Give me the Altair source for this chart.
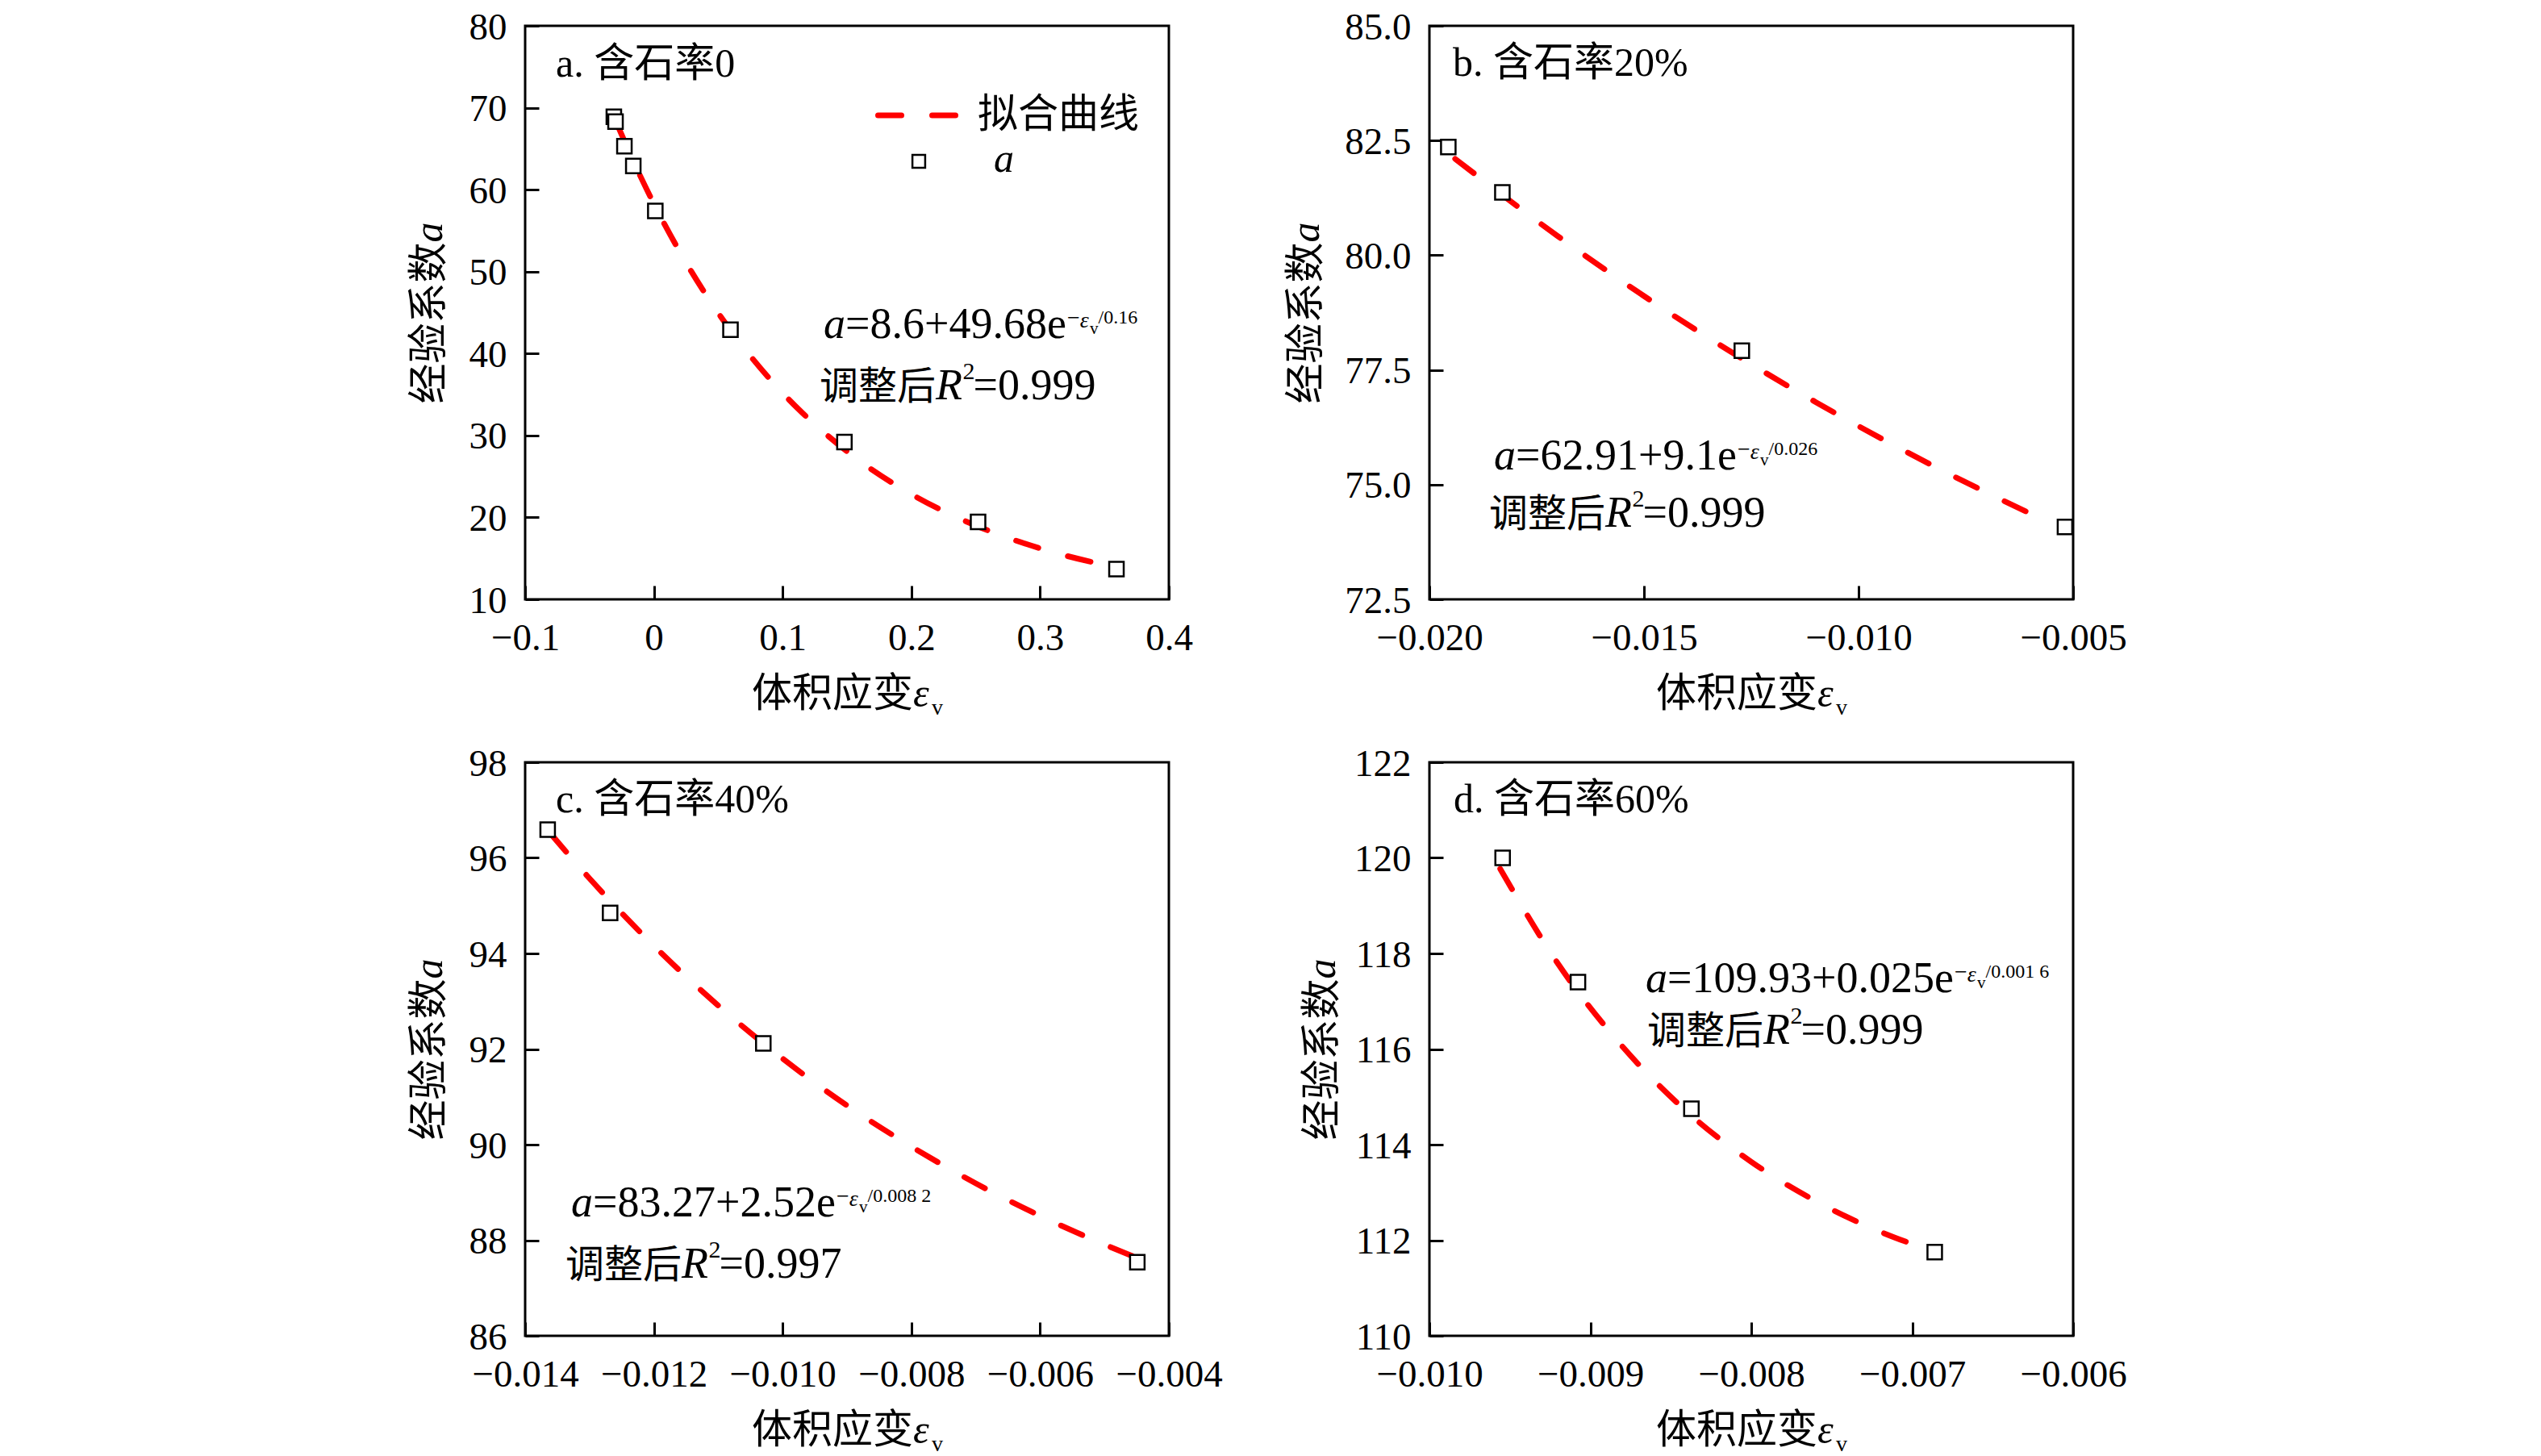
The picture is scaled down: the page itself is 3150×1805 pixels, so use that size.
import altair as alt
import pandas as pd

FONT = "Liberation Serif, Noto Sans CJK SC"
RED = "#ff0000"

# ---------------- data ----------------
# panel a  (含石率0)
a_pt_x = [-0.0311, -0.0298, -0.0229, -0.0160, 0.0011, 0.0595, 0.148, 0.2518, 0.3593]
a_pt_y = [68.9, 68.3, 65.3, 62.9, 57.4, 42.9, 29.2, 19.45, 13.7]
a_fit_x = [-0.028, -0.014, 0.0, 0.025, 0.05, 0.075, 0.1, 0.15, 0.2, 0.25, 0.3, 0.357]
a_fit_y = [67.78, 62.82, 58.28, 51.09, 44.95, 39.69, 35.19, 28.06, 22.83, 19.01, 16.22, 13.94]

# panel b  (含石率20%)
b_pt_x = [-0.01956, -0.0183, -0.01272, -0.00519]
b_pt_y = [82.36, 81.37, 77.92, 74.08]
b_fit_x = [-0.0194, -0.017, -0.015, -0.013, -0.011, -0.009, -0.007, -0.0055]
b_fit_y = [82.10, 80.41, 79.11, 77.91, 76.80, 75.77, 74.82, 74.15]

# panel c  (含石率40%)
c_pt_x = [-0.01365, -0.01268, -0.0103, -0.00449]
c_pt_y = [96.59, 94.85, 92.12, 87.54]
c_fit_x = [-0.0136, -0.013, -0.012, -0.011, -0.010, -0.009, -0.008, -0.007, -0.006, -0.005, -0.0044]
c_fit_y = [96.50, 95.57, 94.16, 92.91, 91.80, 90.82, 89.96, 89.19, 88.51, 87.91, 87.58]

# panel d  (含石率60%)
d_pt_x = [-0.009545, -0.009077, -0.008372, -0.00686]
d_pt_y = [120.0, 117.40, 114.75, 111.75]
d_fit_x = [-0.00956, -0.0092, -0.0088, -0.0084, -0.0080, -0.0076, -0.0072, -0.0070]
d_fit_y = [119.77, 117.78, 116.05, 114.69, 113.64, 112.82, 112.18, 111.92]

# axes
a_xticks = [-0.1, 0.0, 0.1, 0.2, 0.3, 0.4]
a_yticks = [10, 20, 30, 40, 50, 60, 70, 80]
b_xticks = [-0.020, -0.015, -0.010, -0.005]
b_yticks = [72.5, 75.0, 77.5, 80.0, 82.5, 85.0]
c_xticks = [-0.014, -0.012, -0.010, -0.008, -0.006, -0.004]
c_yticks = [86, 88, 90, 92, 94, 96, 98]
d_xticks = [-0.010, -0.009, -0.008, -0.007, -0.006]
d_yticks = [110, 112, 114, 116, 118, 120, 122]

titles = ["a. 含石率0", "b. 含石率20%", "c. 含石率40%", "d. 含石率60%"]
fit_main = ["=8.6+49.68e", "=62.91+9.1e", "=83.27+2.52e", "=109.93+0.025e"]
fit_expo = ["/0.16", "/0.026", "/0.008 2", "/0.001 6"]
fit_r2 = ["0.999", "0.999", "0.997", "0.999"]
x_title = ["体积应变", "ε", "v"]
y_title = ["经验系数", "a"]
legend_labels = ["拟合曲线", "a"]

# ---------------- layout helpers ----------------
W, H = 798, 711
ONE = pd.DataFrame({"k": [0]})


def tw(s, fs):
    w = 0.0
    for ch in s:
        if ch in "0123456789":
            w += 0.5
        elif ch in ". ":
            w += 0.25
        elif ch in "=+−":
            w += 0.564
        elif ch == "e":
            w += 0.444
        elif ch == "/":
            w += 0.278
        elif ch == "ε":
            w += 0.44
        elif ord(ch) > 0x2E80:
            w += 1.0
        else:
            w += 0.5
    return w * fs


def txt(s, x, y, fs, italic=False, baseline="alphabetic", angle=0):
    return alt.Chart(ONE).mark_text(
        text=s, align="left", baseline=baseline, font=FONT, fontSize=fs, angle=angle,
        fontStyle="italic" if italic else "normal", color="black"
    ).encode(x=alt.value(round(x, 1)), y=alt.value(round(y, 1)))


def formula(i, x0, y0, x1, y1):
    F, S, V, C = 54, 28, 21, 48
    items = [txt("a", x0, y0, F, italic=True)]
    xa = x0 + 0.5 * F
    items.append(txt(fit_main[i], xa, y0, F))
    xs = xa + tw(fit_main[i], F) + 1
    items.append(txt("−", xs, y0 - 16, S))
    xeps = xs + tw("−", S)
    items.append(txt("ε", xeps, y0 - 13, S, italic=True))
    xv = xeps + tw("ε", S)
    items.append(txt("v", xv, y0 - 5, V))
    xe = xv + tw("v", V)
    items.append(txt(fit_expo[i], xe, y0 - 18, S - 4))
    items.append(txt("调整后", x1, y1, C))
    xr = x1 + 3 * C
    items.append(txt("R", xr, y1, 54, italic=True))
    x2 = xr + 0.62 * 54
    items.append(txt("2", x2, y1 - 25, 30))
    items.append(txt("=" + fit_r2[i], x2 + 13, y1, F))
    return items


def axis_titles(ytx):
    T = 50
    # x title: 体积应变 + italic ε + subscript v
    x0 = W / 2 - 118
    items = [txt(x_title[0], x0, H + 133, T),
             txt(x_title[1], x0 + 4 * T, H + 133, T, italic=True),
             txt(x_title[2], x0 + 4 * T + 0.46 * T, H + 143, 28)]
    # y title: 经验系数 + italic a, rotated
    yb = H / 2 + 113
    items += [txt(y_title[0], ytx + 19, yb, T, angle=270),
              txt(y_title[1], ytx + 19, yb - 4 * T, T, italic=True, angle=270)]
    return items


def panel(i, px, py, fx, fy, xdom, ydom, xt, yt, xfmt, yfmt, tpos, fpos, ytx, extra=()):
    xs = alt.Scale(domain=xdom, nice=False, zero=False)
    ys = alt.Scale(domain=ydom, nice=False, zero=False)
    xax = alt.Axis(values=xt, format=xfmt, title=None, tickSize=17, offset=-17,
                   domain=False, grid=False, tickColor="black", tickWidth=3,
                   labelPadding=25, labelFont="Liberation Serif",
                   labelFontSize=47, labelColor="black",
                   labelOverlap=False, labelFlush=False)
    yax = alt.Axis(values=yt, format=yfmt, title=None, tickSize=17, offset=-17,
                   domain=False, grid=False, tickColor="black", tickWidth=3,
                   labelPadding=23, labelFont="Liberation Serif",
                   labelFontSize=47, labelColor="black",
                   labelOverlap=False, labelFlush=False, labelOffset=2)
    fit = alt.Chart(pd.DataFrame({"x": fx, "y": fy})).mark_line(
        color=RED, strokeWidth=7, strokeDash=[29, 38], strokeCap="round",
        interpolate="monotone"
    ).encode(x=alt.X("x:Q", scale=xs, axis=xax), y=alt.Y("y:Q", scale=ys, axis=yax))
    pts = alt.Chart(pd.DataFrame({"x": px, "y": py})).mark_point(
        shape="square", size=324, fill="white", fillOpacity=1, stroke="black",
        strokeWidth=2.5, opacity=1
    ).encode(x=alt.X("x:Q", scale=xs), y=alt.Y("y:Q", scale=ys))
    layers = [fit, pts, txt(titles[i], tpos[0], tpos[1], 50)]
    layers += formula(i, *fpos)
    layers += axis_titles(ytx)
    layers += list(extra)
    return alt.layer(*layers).properties(width=W, height=H)


legend = [
    alt.Chart(ONE).mark_rule(color=RED, strokeWidth=7, strokeDash=[29, 38], strokeCap="round")
    .encode(x=alt.value(437.5), x2=alt.value(534.5), y=alt.value(111)),
    alt.Chart(ONE).mark_point(shape="square", size=250, fill="white", fillOpacity=1,
                              stroke="black", strokeWidth=2.5, opacity=1)
    .encode(x=alt.value(488), y=alt.value(168)),
    txt(legend_labels[0], 561, 111, 50, baseline="middle"),
    txt(legend_labels[1], 581, 166, 50, italic=True, baseline="middle"),
]

pa = panel(0, a_pt_x, a_pt_y, a_fit_x, a_fit_y, [-0.1, 0.4], [10, 80], a_xticks, a_yticks,
           ".1~f", "d", (38, 63), (370, 387, 365, 463), -122, legend)
pb = panel(1, b_pt_x, b_pt_y, b_fit_x, b_fit_y, [-0.020, -0.005], [72.5, 85.0], b_xticks, b_yticks,
           ".3f", ".1f", (29, 62), (80, 550, 74, 621), -156)
pc = panel(2, c_pt_x, c_pt_y, c_fit_x, c_fit_y, [-0.014, -0.004], [86, 98], c_xticks, c_yticks,
           ".3f", "d", (38, 62), (57, 563, 50, 639), -122)
pd_ = panel(3, d_pt_x, d_pt_y, d_fit_x, d_fit_y, [-0.010, -0.006], [110, 122], d_xticks, d_yticks,
            ".3f", "d", (30, 62), (268, 285, 270, 349), -136)

chart = alt.concat(pa, pb, pc, pd_, columns=2, spacing={"row": 202, "column": 323},
                   bounds="flush").properties(
    padding={"left": 498, "top": 0, "right": 0, "bottom": 0},
    background="white"
).configure_view(stroke="black", strokeWidth=3)

chart.save("out.html", embed_options={"renderer": "svg", "actions": False})
